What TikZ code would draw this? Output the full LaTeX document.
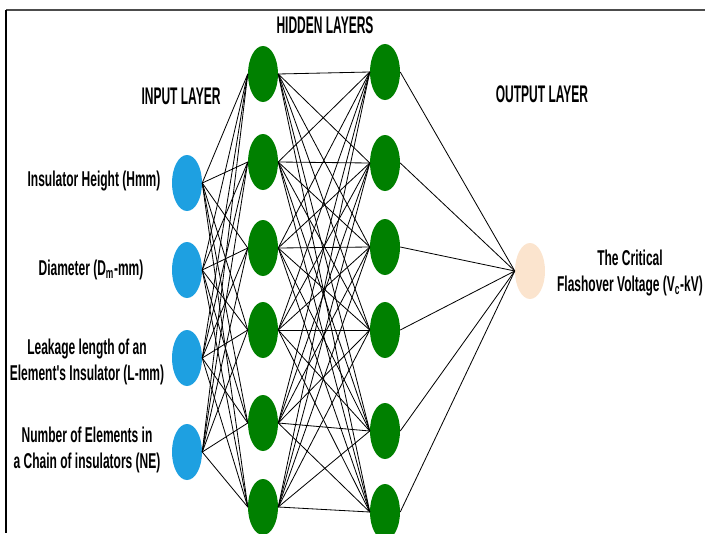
\documentclass[tikz,border=0pt]{standalone}
\usepackage{fontspec}
\usetikzlibrary{shapes.geometric}
\newfontfamily\narrowfont[FakeStretch=0.56]{Liberation Sans}
\newfontfamily\titlefont[FakeStretch=0.50]{Liberation Sans}

\definecolor{inblue}{RGB}{30,160,225}
\definecolor{hidgreen}{RGB}{0,128,0}
\definecolor{outpeach}{RGB}{251,228,206}

\tikzset{neuron/.style={shape=ellipse,inner sep=0pt,minimum width=0.9cm,minimum height=1.68cm},
        inputnode/.style={neuron,fill=inblue},
        hiddennode/.style={neuron,fill=hidgreen},
        outputnode/.style={neuron,fill=outpeach},
        layertitle/.style={font=\titlefont\bfseries\fontsize{20.5}{22}\selectfont},
        feature/.style={align=center,font=\narrowfont\bfseries\fontsize{18.3}{21.5}\selectfont},
        link/.style={draw=black,line width=0.7pt}}

\begin{document}
\begin{tikzpicture}[x=0.03cm,y=-0.03cm]
        \useasboundingbox (0,0) rectangle (705,533);
        \draw[line width=1.6pt,black!70] (6,10) -- (705,10);
        \draw[line width=1.1pt] (6,10) -- (6,533);

        % input layer
        \node[inputnode] (I1) at (187,183) {};
        \node[inputnode] (I2) at (187,270) {};
        \node[inputnode] (I3) at (187,358) {};
        \node[inputnode] (I4) at (187,452) {};

        % first hidden layer
        \node[hiddennode] (H1) at (263,74) {};
        \node[hiddennode] (H2) at (263,162) {};
        \node[hiddennode] (H3) at (263,248) {};
        \node[hiddennode] (H4) at (263,330) {};
        \node[hiddennode] (H5) at (263,423) {};
        \node[hiddennode] (H6) at (263,507) {};

        % second hidden layer
        \node[hiddennode] (K1) at (385,72) {};
        \node[hiddennode] (K2) at (385,163) {};
        \node[hiddennode] (K3) at (385,247) {};
        \node[hiddennode] (K4) at (385,330) {};
        \node[hiddennode] (K5) at (385,431) {};
        \node[hiddennode] (K6) at (385,512) {};

        % output layer
        \node[outputnode] (O) at (530,271) {};

        \node[layertitle] (hidT) at (325,25) {HIDDEN LAYERS};
        \node[layertitle] (inT) at (181,96) {INPUT LAYER};
        \node[layertitle] (outT) at (542,94) {OUTPUT LAYER};

        \node[feature] (f1) at (94,181) {Insulator Height (Hmm)};
        \node[feature] (f2) at (91,270) {Diameter (D\textsubscript{m}-mm)};
        \node[feature] (f3) at (87,362) {Leakage length of an\\Element's Insulator (L-mm)};
        \node[feature] (f4) at (87,450) {Number of Elements in\\a Chain of insulators (NE)};
        \node[feature] (res) at (630,273) {The Critical\\Flashover Voltage (V\textsubscript{c}-kV)};

        \path [link] (I1.east) edge (H1.west) edge (H2.west) edge (H3.west) edge (H4.west) edge (H5.west) edge (H6.west);
        \path [link] (I2.east) edge (H1.west) edge (H2.west) edge (H3.west) edge (H4.west) edge (H5.west) edge (H6.west);
        \path [link] (I3.east) edge (H1.west) edge (H2.west) edge (H3.west) edge (H4.west) edge (H5.west) edge (H6.west);
        \path [link] (I4.east) edge (H1.west) edge (H2.west) edge (H3.west) edge (H4.west) edge (H5.west) edge (H6.west);

        \path [link] (H1.east) edge (K1.west) edge (K2.west) edge (K3.west) edge (K4.west) edge (K5.west) edge (K6.west);
        \path [link] (H2.east) edge (K1.west) edge (K2.west) edge (K3.west) edge (K4.west) edge (K5.west) edge (K6.west);
        \path [link] (H3.east) edge (K1.west) edge (K2.west) edge (K3.west) edge (K4.west) edge (K5.west) edge (K6.west);
        \path [link] (H4.east) edge (K1.west) edge (K2.west) edge (K3.west) edge (K4.west) edge (K5.west) edge (K6.west);
        \path [link] (H5.east) edge (K1.west) edge (K2.west) edge (K3.west) edge (K4.west) edge (K5.west) edge (K6.west);
        \path [link] (H6.east) edge (K1.west) edge (K2.west) edge (K3.west) edge (K4.west) edge (K5.west) edge (K6.west);

        \path [link] (O.west) edge (K1.east) edge (K2.east) edge (K3.east) edge (K4.east) edge (K5.east) edge (K6.east);
      \end{tikzpicture}
\end{document}
